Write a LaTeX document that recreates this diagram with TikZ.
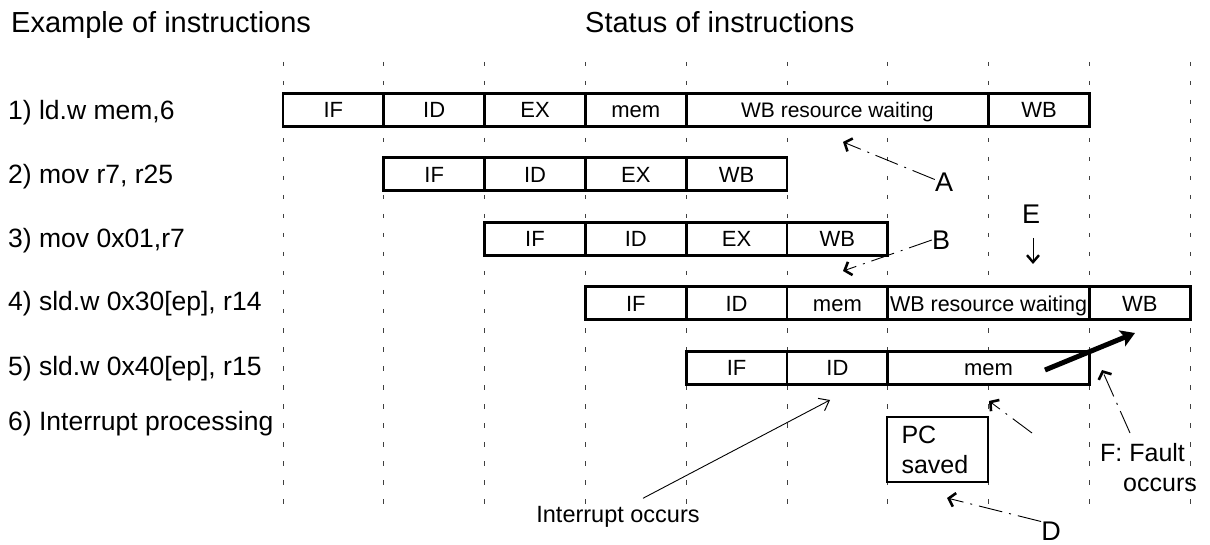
\documentclass[tikz,border=0pt]{standalone}
\usepackage{fontspec}
\setmainfont{Liberation Sans}
\usetikzlibrary{arrows.meta}
\newcommand\szTitle{\fontsize{29}{33}\selectfont}
\newcommand\szLabel{\fontsize{26.5}{30}\selectfont}
\newcommand\szCell{\fontsize{22}{26}\selectfont}
\newcommand\szWait{\fontsize{21}{25}\selectfont}
\newcommand\szWaitB{\fontsize{21.5}{25}\selectfont}
\newcommand\szNote{\fontsize{25}{30}\selectfont}
\newcommand\szLetter{\fontsize{27}{30}\selectfont}
\newcommand\szIntr{\fontsize{23.5}{28}\selectfont}
\begin{document}
\begin{tikzpicture}[x=1pt,y=-1pt,
  grid/.style={black!75, line width=1pt, dash pattern=on 4.5pt off 14.5pt, dash phase=-2pt},
  cell/.style={draw, line width=2.8pt, fill=white, minimum height=33pt, inner sep=0pt,
     text height=15.8pt, text depth=0pt, font=\szCell},
  lbl/.style={anchor=base west, inner sep=0pt, font=\szLabel},
  ttl/.style={anchor=base west, inner sep=0pt, font=\szTitle},
  letter/.style={inner sep=0pt, font=\szLetter},
  dd/.style={line width=0.9pt, dash pattern=on 24pt off 7pt on 2pt off 7pt},
  barb/.style={-{Straight Barb[length=6pt,width=14pt,line width=2.6pt]}},
]
\useasboundingbox (0,0) rectangle (1210,545);
\def\cw{100.8}
% grid lines
\foreach \i in {0,...,9} {
  \draw[grid] ({283+\cw*\i},60) -- ({283+\cw*\i},506);
}
% titles
\node[ttl] (t1) at (11,33) {Example of instructions};
\node[ttl] (t2) at (585,33) {Status of instructions};
% row labels
\node[lbl] (l1) at (8,119.5) {1) ld.w mem,6};
\node[lbl] (l2) at (8,184) {2) mov r7, r25};
\node[lbl] (l3) at (8,248) {3) mov 0x01,r7};
\node[lbl] (l4) at (8,311) {4) sld.w 0x30[ep], r14};
\node[lbl] (l5) at (8,375) {5) sld.w 0x40[ep], r15};
\node[lbl] (l6) at (8,430) {6) Interrupt processing};
% row 1
\node[cell, minimum width=\cw] (a1) at ({283+\cw*0.5},110) {IF};
\node[cell, minimum width=\cw] (a2) at ({283+\cw*1.5},110) {ID};
\node[cell, minimum width=\cw] (a3) at ({283+\cw*2.5},110) {EX};
\node[cell, minimum width=\cw] (a4) at ({283+\cw*3.5},110) {mem};
\node[cell, minimum width=3*\cw, font=\szWait] (a5) at ({283+\cw*5.5},110) {WB resource waiting};
\node[cell, minimum width=\cw] (a6) at ({283+\cw*7.5},110) {WB};
% row 2
\node[cell, minimum width=\cw] (b1) at ({283+\cw*1.5},174.4) {IF};
\node[cell, minimum width=\cw] (b2) at ({283+\cw*2.5},174.4) {ID};
\node[cell, minimum width=\cw] (b3) at ({283+\cw*3.5},174.4) {EX};
\node[cell, minimum width=\cw] (b4) at ({283+\cw*4.5},174.4) {WB};
% row 3
\node[cell, minimum width=\cw] (c1) at ({283+\cw*2.5},238.8) {IF};
\node[cell, minimum width=\cw] (c2) at ({283+\cw*3.5},238.8) {ID};
\node[cell, minimum width=\cw] (c3) at ({283+\cw*4.5},238.8) {EX};
\node[cell, minimum width=\cw] (c4) at ({283+\cw*5.5},238.8) {WB};
% row 4
\node[cell, minimum width=\cw] (d1) at ({283+\cw*3.5},303.2) {IF};
\node[cell, minimum width=\cw] (d2) at ({283+\cw*4.5},303.2) {ID};
\node[cell, minimum width=\cw] (d3) at ({283+\cw*5.5},303.2) {mem};
\node[cell, minimum width=2*\cw, font=\szWaitB] (d4) at ({283+\cw*7},303.2) {WB resource waiting};
\node[cell, minimum width=\cw] (d5) at ({283+\cw*8.5},303.2) {WB};
% row 5
\node[cell, minimum width=\cw] (e1) at ({283+\cw*4.5},367.6) {IF};
\node[cell, minimum width=\cw] (e2) at ({283+\cw*5.5},367.6) {ID};
\node[cell, minimum width=2*\cw] (e3) at ({283+\cw*7},367.6) {mem};
% PC saved
\node[draw, line width=2.8pt, fill=white, minimum width=101pt, minimum height=65pt,
      text width=72pt, align=left, inner sep=0pt, font=\szNote] (pc) at (937.5,449.5) {PC\\saved};
% labels
\node[letter] (A) at (944,182) {A};
\node[letter] (B) at (941,240) {B};
\node[letter] (E) at (1031,214) {E};
\node[letter] (D) at (1051,531) {D};
\node[inner sep=0pt, align=left, font=\szNote, anchor=north west] (F) at (1100,443) {F: Fault\\\hspace*{23pt}occurs};
\node[inner sep=0pt, font=\szIntr] (intr) at (618,517) {Interrupt occurs};
% coordinates
\coordinate (tipA) at (843,142);
\coordinate (tipB) at (843,271);
\coordinate (startE) at (1033,238);
\coordinate (tipE) at (1033,264);
\coordinate (tipD) at (947,498);
\coordinate (tipF) at (1102,370);
\coordinate (tailG) at (1032,433);
\coordinate (tipG) at (989,401);
\coordinate (tipI) at (830,400);
\coordinate (thS) at (1045,370);
\coordinate (thE) at (1135,333);
% connectors
\draw[dd, barb] (A.165) -- (tipA);
\draw[dd, barb] (B.west) -- (tipB);
\draw[line width=0.9pt, -{Straight Barb[length=7pt,width=12pt,line width=2.4pt]}] (startE) -- (tipE);
\draw[dd, barb] (D.north west) -- (tipD);
\draw[dd, barb] ([xshift=30pt,yshift=10pt]F.north west) -- (tipF);
\draw[dd, barb] (tailG) -- (tipG);
\draw[line width=0.9pt, -{Straight Barb[length=9pt,width=14pt,line width=1pt]}] ([xshift=25pt,yshift=8pt]intr.north) -- (tipI);
\draw[line width=5pt, -{Stealth[length=14pt,width=17pt,inset=3pt]}] (thS) -- (thE);
\end{tikzpicture}
\end{document}
